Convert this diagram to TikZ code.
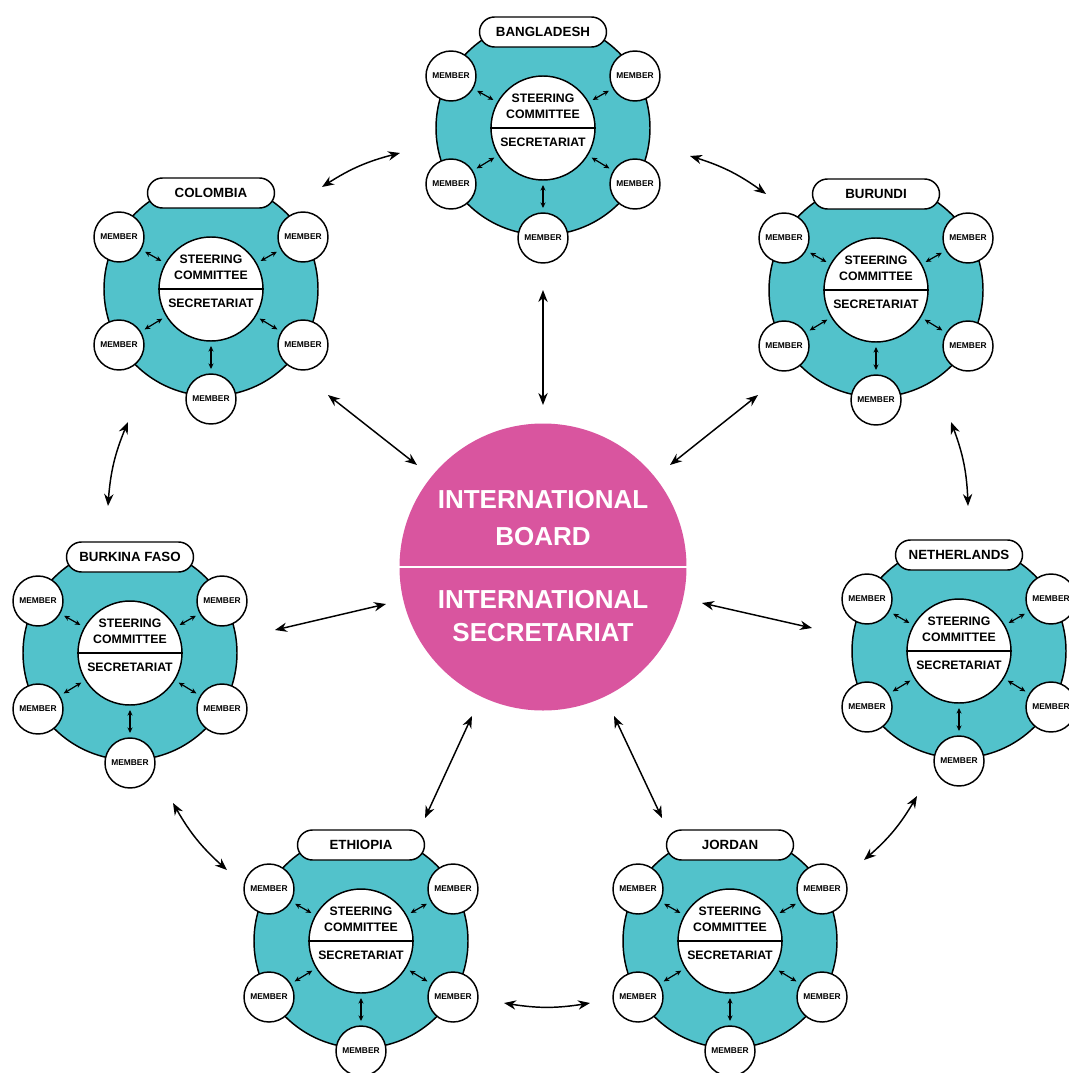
\documentclass[tikz,border=0pt]{standalone}
\usepackage{fontspec}
\setmainfont{Liberation Sans}
\usetikzlibrary{arrows.meta,bending}
\definecolor{tealc}{HTML}{52C2CB}
\definecolor{pinkc}{HTML}{D9559F}
\tikzset{
 teal disk/.style={circle, fill=tealc, draw=black, line width=1.1pt, minimum size=160.5pt, inner sep=0},
 inner disk/.style={circle, fill=white, draw=black, line width=1.1pt, minimum size=78pt, inner sep=0},
 member/.style={circle, fill=white, draw=black, line width=1.1pt, minimum size=37.5pt, inner sep=0, font=\fontsize{6.3}{7}\selectfont\bfseries},
 pill/.style={rectangle, rounded corners=11.25pt, fill=white, draw=black, line width=1.1pt, minimum width=95.25pt, minimum height=22.5pt, inner sep=0, font=\fontsize{10}{12}\selectfont\bfseries},
 inlabel/.style={font=\fontsize{9.2}{11}\selectfont\bfseries, inner sep=0},
 small arrow/.style={{Stealth[length=4.2pt,width=3.8pt]}-{Stealth[length=4.2pt,width=3.8pt]}, line width=0.9pt, shorten <=3.2pt, shorten >=3.2pt},
 big arrow/.style={{Stealth[length=9pt,width=7pt]}-{Stealth[length=9pt,width=7pt]}, line width=1.1pt},
 biglabel/.style={text=white, font=\fontsize{19.5}{24}\selectfont\bfseries, inner sep=0},
}
\newcommand\mycluster[4]{%
 \node[teal disk] (#1) at (#2,#3) {};
 \node[pill] (#1-lab) at (#2,#3-96) {#4};
 \node[member] (#1-m1) at (#2-92,#3-52) {MEMBER};
 \node[member] (#1-m2) at (#2+92,#3-52) {MEMBER};
 \node[member] (#1-m3) at (#2-92,#3+56) {MEMBER};
 \node[member] (#1-m4) at (#2+92,#3+56) {MEMBER};
 \node[member] (#1-m5) at (#2,#3+110) {MEMBER};
 \node[inner disk] (#1-in) at (#2,#3) {};
 \draw[line width=1.1pt] (#1-in.west) -- (#1-in.east);
 \node[inlabel] (#1-t1) at (#2,#3-30) {STEERING};
 \node[inlabel] (#1-t2) at (#2,#3-14) {COMMITTEE};
 \node[inlabel] (#1-t3) at (#2,#3+14) {SECRETARIAT};
 \foreach \k in {1,...,5} {\draw[small arrow] (#1-in) -- (#1-m\k);}
}
\begin{document}
\begin{tikzpicture}[x=0.75pt,y=-0.75pt]
\useasboundingbox (0,0) rectangle (1069,1073);
\fill[white] (0,0) rectangle (1069,1073);
% central circle
\node[circle, fill=pinkc, minimum size=215.25pt, inner sep=0] (C) at (543,567) {};
\draw[white, line width=1pt] (C.west) -- (C.east);
\node[biglabel] (c1) at (543,500) {INTERNATIONAL};
\node[biglabel] (c2) at (543,537) {BOARD};
\node[biglabel] (c3) at (543,600) {INTERNATIONAL};
\node[biglabel] (c4) at (543,633) {SECRETARIAT};
% clusters
\mycluster{B}{543}{128}{BANGLADESH}
\mycluster{Co}{211}{289}{COLOMBIA}
\mycluster{Bu}{876}{290}{BURUNDI}
\mycluster{BF}{130}{653}{BURKINA FASO}
\mycluster{N}{959}{651}{NETHERLANDS}
\mycluster{E}{361}{941}{ETHIOPIA}
\mycluster{J}{730}{941}{JORDAN}
% connector end points
\coordinate (a1) at (543,290); \coordinate (b1) at (543,405);
\coordinate (a2) at (328,395); \coordinate (b2) at (417,465);
\coordinate (a3) at (758,395); \coordinate (b3) at (670,465);
\coordinate (a4) at (275,630); \coordinate (b4) at (386,604);
\coordinate (a5) at (812,628); \coordinate (b5) at (702,603);
\coordinate (a6) at (425,818); \coordinate (b6) at (472,716);
\coordinate (a7) at (662,818); \coordinate (b7) at (614,716);
\coordinate (p8) at (322,187); \coordinate (q8) at (400,153);
\coordinate (p9) at (690,156); \coordinate (q9) at (766,194);
\coordinate (p10) at (108,506); \coordinate (q10) at (128,422);
\coordinate (p11) at (951,422); \coordinate (q11) at (968,506);
\coordinate (p12) at (227,870); \coordinate (q12) at (173,803);
\coordinate (p13) at (917,796); \coordinate (q13) at (864,860);
\coordinate (p14) at (590,1003); \coordinate (q14) at (504,1003);
% to the centre
\foreach \i in {1,...,7} {\draw[big arrow] (a\i) -- (b\i);}
% between neighbours
\foreach \i in {8,...,14} {\draw[big arrow] (p\i) to[bend left=10] (q\i);}
\end{tikzpicture}
\end{document}
